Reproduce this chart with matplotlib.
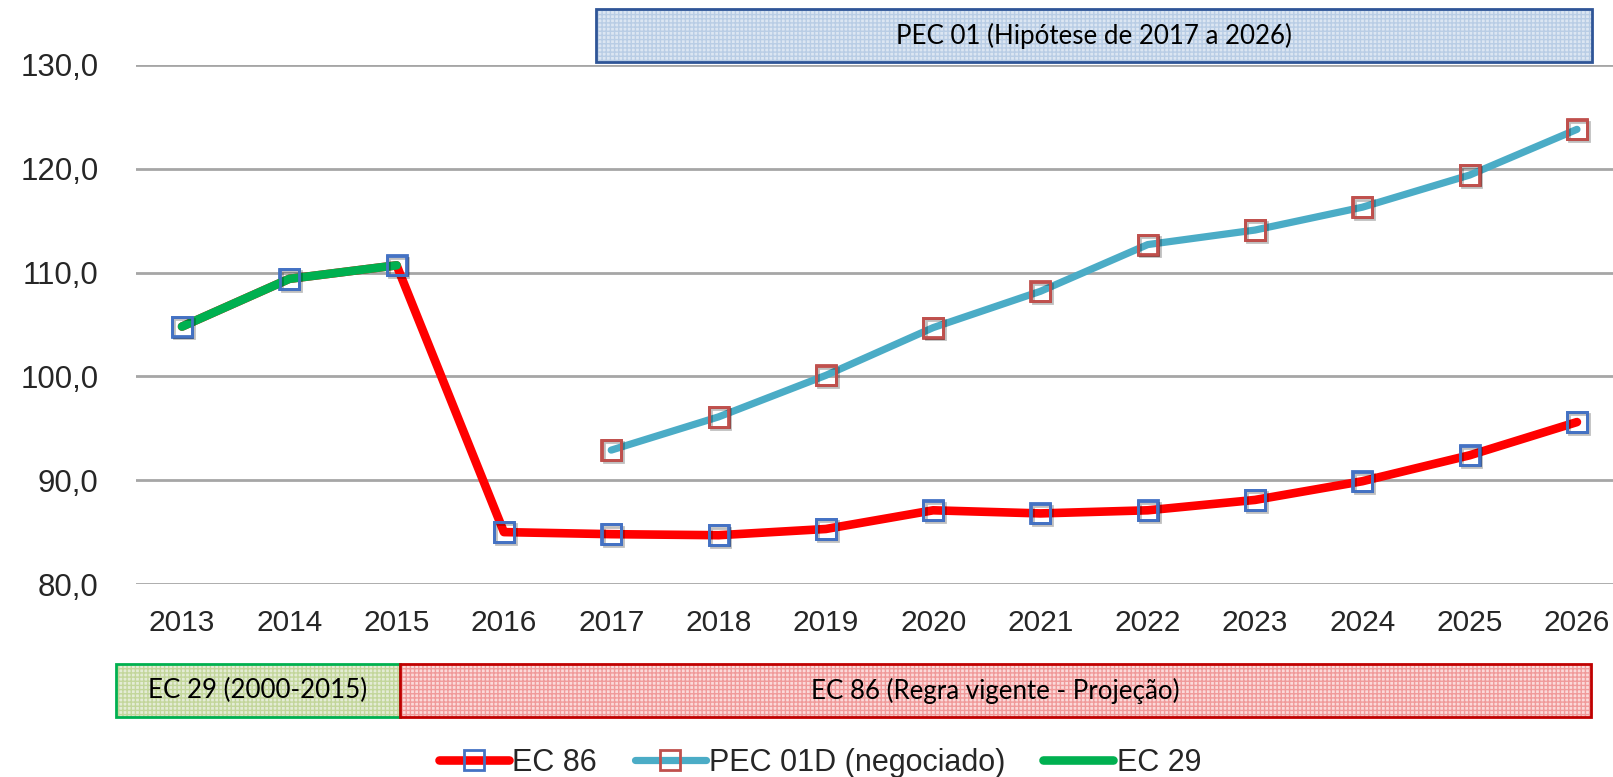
import matplotlib
matplotlib.use("Agg")
import matplotlib.pyplot as plt
import matplotlib.patheffects as pe
from matplotlib.patches import Rectangle
from matplotlib.ticker import FuncFormatter

years = list(range(2013, 2027))
ec86 = [104.8, 109.4, 110.7, 85.0, 84.8, 84.7, 85.3, 87.1, 86.8, 87.1, 88.1, 89.9, 92.4, 95.6]
pec_years = list(range(2017, 2027))
pec01d = [92.9, 96.1, 100.1, 104.7, 108.2, 112.7, 114.1, 116.3, 119.4, 123.8]
ec29_years = [2013, 2014, 2015]
ec29 = [104.8, 109.4, 110.7]

box_top = "PEC 01 (Hipótese de 2017 a 2026)"
box_green = "EC 29 (2000-2015)"
box_red = "EC 86 (Regra vigente - Projeção)"

W, H = 1613, 777
fig = plt.figure(figsize=(W / 100, H / 100), dpi=100)
ax = fig.add_axes([136 / W, 1 - 584 / H, 1 - 136 / W, (584 - 65) / H])

red, cyan, green = "#FF0000", "#4BACC6", "#00B050"
blue_mk, red_mk = "#4472C4", "#C0504D"
shadow = [pe.SimpleLineShadow(offset=(1.5, -1.5), shadow_color="k", alpha=0.25), pe.Normal()]

ax.plot(years, ec86, color=red, lw=6.2, solid_capstyle="round", zorder=3,
        marker="s", ms=14, mfc="none", mec=blue_mk, mew=2, label="EC 86")
ax.plot(pec_years, pec01d, color=cyan, lw=5.2, solid_capstyle="round", zorder=3,
        marker="s", ms=14, mfc="none", mec=red_mk, mew=2, label="PEC 01D (negociado)")
# marker shadows drawn on top of lines
ax.plot(years, ec86, ls="none", marker="s", ms=14, mfc="none", mec=blue_mk, mew=2,
        zorder=5, path_effects=shadow)
ax.plot(pec_years, pec01d, ls="none", marker="s", ms=14, mfc="none", mec=red_mk, mew=2,
        zorder=5, path_effects=shadow)
ax.plot(ec29_years, ec29, color=green, lw=6.2, solid_capstyle="round", zorder=4,
        label="EC 29")

ax.set_xlim(2012.571, 2026.336)
ax.set_ylim(80, 130)
ax.set_xticks(years)
ax.set_yticks(range(80, 131, 10))
ax.yaxis.set_major_formatter(FuncFormatter(lambda v, p: f"{v:.1f}".replace(".", ",")))
ax.grid(axis="y", color="#A6A6A6", lw=2)
ax.set_axisbelow(True)
for s in ax.spines.values():
    s.set_visible(False)
ax.tick_params(length=0, labelcolor="#262626")
ax.tick_params(axis="y", pad=27, labelsize=22.5)
ax.tick_params(axis="x", pad=18, labelsize=21.5)
for t in ax.get_xticklabels() + ax.get_yticklabels():
    t.set_family("Liberation Sans")

plt.rcParams["hatch.linewidth"] = 1.0


def box(x0, y0, x1, y1, face, dots, edge, text):
    r = Rectangle((x0 / W, 1 - y1 / H), (x1 - x0) / W, (y1 - y0) / H,
                  transform=fig.transFigure, facecolor=face, edgecolor=dots,
                  hatch="++++", lw=0)
    fig.add_artist(r)
    b = Rectangle((x0 / W, 1 - y1 / H), (x1 - x0) / W, (y1 - y0) / H,
                  transform=fig.transFigure, facecolor="none", edgecolor=edge, lw=2)
    fig.add_artist(b)
    fig.text((x0 + x1) / 2 / W, 1 - (y0 + y1) / 2 / H, text, ha="center", va="center",
             fontsize=18.6, family="Lato", color="black")


box(596, 9, 1592, 62, "#DCE6F2", "#B9CDE5", "#2F5597", box_top)
box(116, 664, 400, 717, "#E4ECD6", "#C3D69B", green, box_green)
box(400, 664, 1591, 717, "#FBDADA", "#F09A9A", "#C00000", box_red)

leg = fig.legend(loc="center", bbox_to_anchor=(820 / W, 1 - 763 / H), ncol=3, frameon=False,
                 prop={"family": "Liberation Sans", "size": 22}, handlelength=2.3,
                 handletextpad=0.1, columnspacing=1.25, borderpad=0.1)
for t in leg.get_texts():
    t.set_color("#262626")

fig.savefig("out.png", dpi=100)
